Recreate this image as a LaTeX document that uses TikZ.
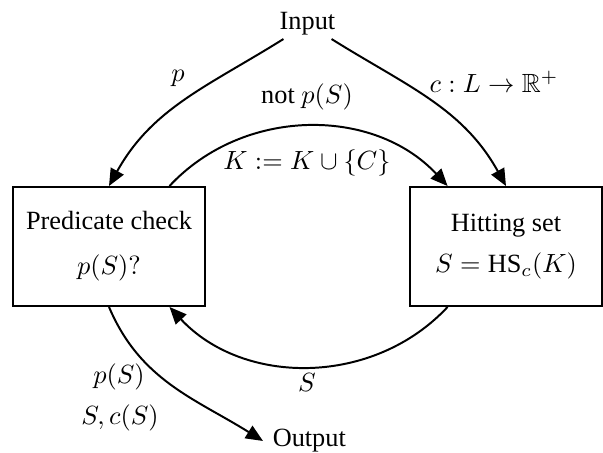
\documentclass[tikz,border=0pt]{standalone}
\usepackage{amssymb}
\usepackage{fontspec}
\setmainfont{Liberation Serif}
\usetikzlibrary{arrows.meta}
\begin{document}
\begin{tikzpicture}[x=0.38pt,y=0.38pt, line width=0.75pt,
  box/.style={draw, minimum width=72.96pt, minimum height=45.22pt, align=center, inner sep=0pt},
  arr/.style={-{Triangle[length=6.5pt,width=5.5pt]}},
  lbl/.style={inner sep=0pt}]
\useasboundingbox (0,0) rectangle (603,453);
\node[inner sep=1pt] (inp) at (307.5,429) {Input};
\node[box] (pc) at (109,206.5) {Predicate check\\[5pt] $p(S)?$};
\node[box] (hs) at (506,206.5) {Hitting set\\[3.6pt] $S=\mathrm{HS}_c(K)$};
\node[anchor=west] (outp) at (263,12) {Output};
\draw[arr] (inp) to[out=212,in=61] (pc.north);
\draw[arr] (inp) to[out=-32,in=119] (hs.north);
\draw[arr] (pc.45.7) to[out=47,in=133] (hs.134.3);
\draw[arr] (hs.-134.3) to[out=-133,in=-47] (pc.-45.7);
\draw[arr] (pc.south) to[out=-67,in=148] (outp.west);
\node[lbl] (lp) at (178,375) {$p$};
\node[lbl] (lc) at (494,371) {$c : L \to \mathbb{R}^+$};
\node[lbl] (lnot) at (307,356) {not $p(S)$};
\node[lbl] (lk) at (307,290) {$K := K \cup \{C\}$};
\node[lbl] (ls) at (307,70) {$S$};
\node[lbl] (lps) at (119,76) {$p(S)$};
\node[lbl] (lsc) at (120,35) {$S, c(S)$};
\end{tikzpicture}
\end{document}
